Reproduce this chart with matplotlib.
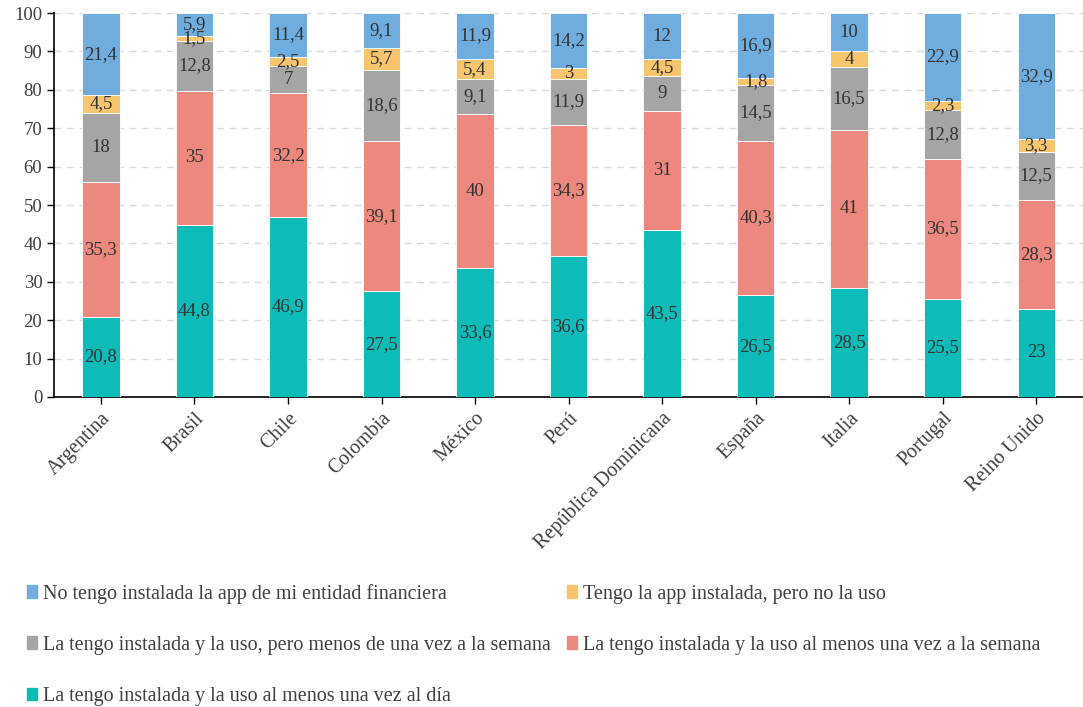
import numpy as np
from matplotlib import pyplot as plt
from matplotlib.patches import Patch

paises = ['Argentina', 'Brasil', 'Chile', 'Colombia', 'México', 'Perú',
          'República Dominicana', 'España', 'Italia', 'Portugal', 'Reino Unido']

diario = [20.8, 44.8, 46.9, 27.5, 33.6, 36.6, 43.5, 26.5, 28.5, 25.5, 23]
semanal = [35.3, 35, 32.2, 39.1, 40, 34.3, 31, 40.3, 41, 36.5, 28.3]
menos_semanal = [18, 12.8, 7, 18.6, 9.1, 11.9, 9, 14.5, 16.5, 12.8, 12.5]
no_uso = [4.5, 1.5, 2.5, 5.7, 5.4, 3, 4.5, 1.8, 4, 2.3, 3.3]
no_instalada = [21.4, 5.9, 11.4, 9.1, 11.9, 14.2, 12, 16.9, 10, 22.9, 32.9]

series = [
    ('La tengo instalada y la uso al menos una vez al día', diario, '#0DBBB9'),
    ('La tengo instalada y la uso al menos una vez a la semana', semanal, '#EC887D'),
    ('La tengo instalada y la uso, pero menos de una vez a la semana', menos_semanal, '#A5A5A5'),
    ('Tengo la app instalada, pero no la uso', no_uso, '#F7C56E'),
    ('No tengo instalada la app de mi entidad financiera', no_instalada, '#6FADDF'),
]

plt.rcParams['font.family'] = ['Liberation Serif', 'DejaVu Serif']
txt = '#404040'

fig = plt.figure(figsize=(10.83, 7.07), dpi=100)
ax = fig.add_axes([0.05, 0.4385, 0.95, 0.543])

x = np.arange(len(paises))
bottom = np.zeros(len(paises))
handles = {}
for label, vals, color in series:
    vals = np.array(vals)
    ax.bar(x, vals, 0.4, bottom=bottom, color=color, edgecolor='white',
           linewidth=0.6, zorder=3)
    handles[label] = Patch(color=color, label=label)
    for xi, b, v in zip(x, bottom, vals):
        s = ('%g' % v).replace('.', ',')
        ax.text(xi, b + v / 2, s, ha='center', va='center', fontsize=13.5,
                color='#333333', zorder=4)
    bottom += vals

ax.set_xlim(-0.5, 10.5)
ax.set_ylim(0, 100)
ax.set_yticks(np.arange(0, 101, 10))
ax.set_xticks(x)
ax.set_xticklabels(paises, rotation=45, ha='right', rotation_mode='anchor',
                   fontsize=14.5, color=txt)
ax.tick_params(axis='y', labelsize=13.5, labelcolor=txt, length=5, width=1)
ax.tick_params(axis='x', length=5, width=1)
ax.grid(axis='y', color='#D9D9D9', linestyle=(0, (5, 4)), linewidth=1, zorder=0)
ax.spines['top'].set_visible(False)
ax.spines['right'].set_visible(False)
ax.spines['left'].set_linewidth(1.2)
ax.spines['bottom'].set_linewidth(1.2)

orden = [series[4][0], series[2][0], series[0][0], series[3][0], series[1][0]]
fig.legend([handles[k] for k in orden], orden, ncol=2, loc='upper left',
           bbox_to_anchor=(0.008, 0.2), frameon=False, fontsize=14.5,
           handlelength=0.5, handleheight=0.6, handletextpad=0.3,
           labelspacing=1.6, columnspacing=0.8, labelcolor=txt)

fig.savefig('out.png', dpi=100)
